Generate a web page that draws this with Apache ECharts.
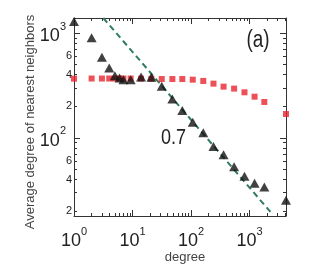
<!DOCTYPE html>
<html><head><meta charset="utf-8">
<script src="https://cdn.jsdelivr.net/npm/echarts@6/dist/echarts.min.js"></script>
<style>html,body{margin:0;padding:0;background:#fff}#c{width:327px;height:267px}</style>
</head><body><div id="c"></div>
<script>
const degrees = [1, 2, 3, 4, 5, 6, 7, 9.3, 14, 21, 31.6, 48, 71, 107, 162, 242, 360, 545, 820, 1220, 1790, 4200];
const knnTriangles = [1290, 900, 586, 464, 392, 373, 359, 359, 381, 378, 310, 235, 182, 141, 112, 83, 69, 53, 43, 37, 34, 25.5];
const knnSquares = [367, 368, 368, 368, 368, 368, 368, 368, 367, 366, 364, 364, 364, 359, 349, 329, 308, 295, 272, 247, 220, 169];
const fitLine = [[3.17, 1390], [2490, 18.6]];
const fitLabel = '0.7';
const panelLabel = '(a)';
const xMajorTicks = [1, 10, 100, 1000];
const xMinorTicks = [2,3,4,5,6,7,8,9,20,30,40,50,60,70,80,90,200,300,400,500,600,700,800,900,2000,3000,4000];
const yMajorTicks = [100, 1000];
const yMinorTicks = [20,30,40,50,60,70,80,90,200,300,400,500,600,700,800,900];
const yLabelValues = [20, 40, 60, 100, 200, 400, 600, 1000];
const xName = 'degree';
const yName = 'Average degree of nearest neighbors';

const X_MIN = 1, X_MAX = 4200, Y_MIN = 18, Y_MAX = 1390;
const axisColor = '#333';
const font = 'Liberation Sans, Arial, sans-serif';

function decadeLabel(v) {
  const e = Math.round(Math.log10(v));
  return '{b|10}{s|' + e + '}';
}
const supRich = {
  b: {fontSize: 18, fontFamily: font, color: '#222', lineHeight: 24, verticalAlign: 'bottom'},
  s: {fontSize: 11, fontFamily: font, color: '#222', lineHeight: 24, verticalAlign: 'top'},
  sp: {fontSize: 11, fontFamily: font, color: '#222', lineHeight: 24, verticalAlign: 'top', padding: [0, 6, 0, 0]},
  m: {fontSize: 11, fontFamily: font, color: '#222'}
};

function xAx(pos, ticks, len, withLabels, showLine) {
  return {
    type: 'log', logBase: 10, min: X_MIN, max: X_MAX, position: pos, gridIndex: 0,
    axisLine: {show: showLine, onZero: false, lineStyle: {color: axisColor, width: 1}},
    axisTick: {show: true, inside: true, length: len, customValues: ticks, lineStyle: {color: axisColor, width: 1}},
    axisLabel: withLabels ? {show: true, customValues: xMajorTicks, margin: 10, formatter: decadeLabel, rich: supRich} : {show: false},
    splitLine: {show: false}, minorTick: {show: false}
  };
}
function yAx(pos, ticks, len, withLabels, showLine) {
  return {
    type: 'log', logBase: 10, min: Y_MIN, max: Y_MAX, position: pos, gridIndex: 0,
    axisLine: {show: showLine, onZero: false, lineStyle: {color: axisColor, width: 1}},
    axisTick: {show: true, inside: true, length: len, customValues: ticks, lineStyle: {color: axisColor, width: 1}},
    axisLabel: withLabels ? {
      show: true, customValues: yLabelValues, margin: 2,
      formatter: function (v) {
        const e = Math.log10(v);
        if (Math.abs(e - Math.round(e)) < 1e-6) return '{b|10}{sp|' + Math.round(e) + '}';
        return '{m|' + Math.round(v / Math.pow(10, Math.floor(e + 1e-9))) + '}';
      },
      rich: supRich
    } : {show: false},
    splitLine: {show: false}, minorTick: {show: false}
  };
}

const chart = echarts.init(document.getElementById('c'), null, {renderer: 'canvas'});
chart.setOption({
  animation: false,
  backgroundColor: '#fff',
  grid: {left: 74, right: 41, top: 18, bottom: 51, containLabel: false},
  xAxis: [
    xAx('bottom', xMajorTicks, 6, true, true),
    xAx('bottom', xMinorTicks, 3, false, false),
    xAx('top', xMajorTicks, 6, false, true),
    xAx('top', xMinorTicks, 3, false, false)
  ],
  yAxis: [
    yAx('left', yMajorTicks, 6, true, true),
    yAx('left', yMinorTicks, 3, false, false),
    yAx('right', yMajorTicks, 6, false, true),
    yAx('right', yMinorTicks, 3, false, false)
  ],
  series: [
    {
      type: 'line', xAxisIndex: 0, yAxisIndex: 0,
      data: fitLine, showSymbol: false, symbol: 'none', clip: true,
      lineStyle: {color: '#2f7d5c', width: 2, type: [6, 4]}, z: 1
    },
    {
      type: 'scatter', xAxisIndex: 0, yAxisIndex: 0,
      data: degrees.map((d, i) => [d, knnSquares[i]]),
      symbol: 'rect', symbolSize: 6, itemStyle: {color: '#e8242c'}, z: 2, clip: false
    },
    {
      type: 'scatter', xAxisIndex: 0, yAxisIndex: 0,
      data: degrees.map((d, i) => [d, knnTriangles[i]]),
      symbol: 'triangle', symbolSize: [10, 9], itemStyle: {color: '#111'}, z: 3, clip: false
    }
  ],
  graphic: [
    {type: 'text', x: 161, y: 127, scaleX: 0.82, style: {text: fitLabel, font: '22px ' + font, fill: '#222', align: 'left', verticalAlign: 'top'}},
    {type: 'text', x: 246.5, y: 29, scaleX: 0.82, style: {text: panelLabel, font: '23px ' + font, fill: '#222', align: 'left', verticalAlign: 'top'}},
    {type: 'text', x: 185, y: 257, style: {text: xName, font: '13px ' + font, fill: '#444', align: 'center', verticalAlign: 'middle'}},
    {type: 'text', x: 30, y: 122, rotation: Math.PI / 2, style: {text: yName, font: '13px ' + font, fill: '#444', align: 'center', verticalAlign: 'middle'}}
  ]
});
</script></body></html>
